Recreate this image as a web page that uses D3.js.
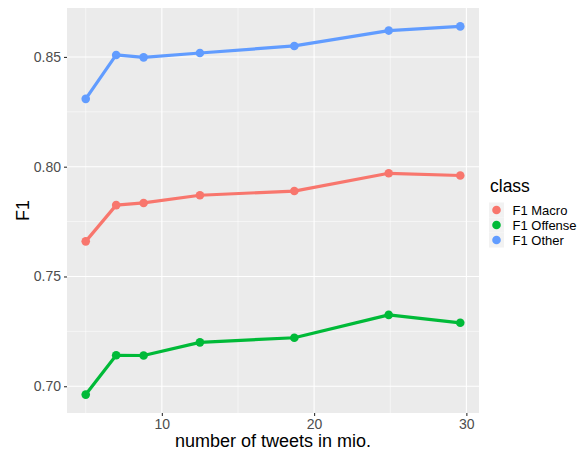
<!DOCTYPE html>
<html>
<head>
<meta charset="utf-8">
<script src="https://cdn.jsdelivr.net/npm/d3@7"></script>
<style>
  body { margin: 0; background: #fff; }
  svg text { font-family: "Liberation Sans", Arial, sans-serif; }
</style>
</head>
<body>
<svg id="chart" width="587" height="450"></svg>
<script>
"use strict";

// data
const tweets = [5.0, 7.0, 8.8, 12.5, 18.7, 24.9, 29.6];
const classes = ["F1 Macro", "F1 Offense", "F1 Other"];
const f1Macro = [0.766, 0.7825, 0.7835, 0.787, 0.7889, 0.797, 0.796];
const f1Offense = [0.6962, 0.7141, 0.714, 0.720, 0.7221, 0.7325, 0.7289];
const f1Other = [0.8309, 0.8509, 0.8498, 0.8518, 0.855, 0.862, 0.8639];
const xTicks = [10, 20, 30];
const yTicks = [0.70, 0.75, 0.80, 0.85];
const colorList = ["#F8766D", "#00BA38", "#619CFF"];

const seriesValues = [f1Macro, f1Offense, f1Other];
const series = classes.map((c, i) => ({
    name: c,
    values: tweets.map((t, j) => ({x: t, y: seriesValues[i][j]}))
}));

// layout
const panel = {left: 67, right: 479, top: 8, bottom: 413};

let svg = d3.select("#chart");

// scales (ggplot style 5% expansion)
let allY = seriesValues.flat();
let xMin = d3.min(tweets), xMax = d3.max(tweets);
let yMin = d3.min(allY), yMax = d3.max(allY);
let xPad = (xMax - xMin) * 0.05, yPad = (yMax - yMin) * 0.05;

let scaleX = d3.scaleLinear()
.domain([xMin - xPad, xMax + xPad])
.range([panel.left, panel.right]);

let scaleY = d3.scaleLinear()
.domain([yMin - yPad, yMax + yPad])
.range([panel.bottom, panel.top]);

let scaleColor = d3.scaleOrdinal()
.domain(classes)
.range(colorList);

// panel background
svg.append("rect")
.attr("x", panel.left)
.attr("y", panel.top)
.attr("width", panel.right - panel.left)
.attr("height", panel.bottom - panel.top)
.attr("fill", "#EBEBEB");

// grid lines
let xMinor = [5, 15, 25];
let yMinor = [0.725, 0.775, 0.825];
let grid = svg.append("g").attr("class", "grid");

grid.selectAll("line.xminor")
.data(xMinor)
.enter()
.append("line")
.attr("x1", d => scaleX(d)).attr("x2", d => scaleX(d))
.attr("y1", panel.top).attr("y2", panel.bottom)
.attr("stroke", "#fff").attr("stroke-width", 0.55);

grid.selectAll("line.yminor")
.data(yMinor)
.enter()
.append("line")
.attr("y1", d => scaleY(d)).attr("y2", d => scaleY(d))
.attr("x1", panel.left).attr("x2", panel.right)
.attr("stroke", "#fff").attr("stroke-width", 0.55);

grid.selectAll("line.xmajor")
.data(xTicks)
.enter()
.append("line")
.attr("x1", d => scaleX(d)).attr("x2", d => scaleX(d))
.attr("y1", panel.top).attr("y2", panel.bottom)
.attr("stroke", "#fff").attr("stroke-width", 1.1);

grid.selectAll("line.ymajor")
.data(yTicks)
.enter()
.append("line")
.attr("y1", d => scaleY(d)).attr("y2", d => scaleY(d))
.attr("x1", panel.left).attr("x2", panel.right)
.attr("stroke", "#fff").attr("stroke-width", 1.1);

// axes
let xAxis = svg.append("g")
.attr("class", "x_axis")
.attr("transform", `translate(0, ${panel.bottom})`)
.call(d3.axisBottom(scaleX).tickValues(xTicks).tickSize(3).tickPadding(3).tickFormat(d3.format("d")));

let yAxis = svg.append("g")
.attr("class", "y_axis")
.attr("transform", `translate(${panel.left}, 0)`)
.call(d3.axisLeft(scaleY).tickValues(yTicks).tickSize(3).tickPadding(3).tickFormat(d3.format(".2f")));

[xAxis, yAxis].forEach(ax => {
    ax.select(".domain").remove();
    ax.selectAll(".tick line").attr("stroke", "#333333").attr("stroke-width", 1.1);
    ax.selectAll(".tick text")
    .attr("fill", "#4D4D4D")
    .style("font-size", "14px")
    .style("font-family", "'Liberation Sans', Arial, sans-serif");
});

// axis titles
svg.append("text")
.attr("x", (panel.left + panel.right) / 2)
.attr("y", 446.5)
.attr("text-anchor", "middle")
.style("font-size", "18px")
.attr("fill", "#000")
.text("number of tweets in mio.");

svg.append("text")
.attr("transform", `translate(${28.5}, ${(panel.top + panel.bottom) / 2}) rotate(-90)`)
.attr("text-anchor", "middle")
.style("font-size", "18px")
.attr("fill", "#000")
.text("F1");

// lines + points
let line = d3.line()
.x(d => scaleX(d.x))
.y(d => scaleY(d.y));

let plot = svg.append("g").attr("class", "series");

plot.selectAll("path")
.data(series)
.enter()
.append("path")
.attr("d", d => line(d.values))
.attr("fill", "none")
.attr("stroke", d => scaleColor(d.name))
.attr("stroke-width", 3.2)
.attr("stroke-linejoin", "round");

plot.selectAll("g.pts")
.data(series)
.enter()
.append("g")
.attr("class", "pts")
.each(function(s) {
    d3.select(this)
    .selectAll("circle")
    .data(s.values)
    .enter()
    .append("circle")
    .attr("cx", d => scaleX(d.x))
    .attr("cy", d => scaleY(d.y))
    .attr("r", 4.3)
    .attr("fill", scaleColor(s.name));
});

// legend
let legend = svg.append("g")
.attr("class", "legend")
.attr("transform", "translate(490, 0)");

legend.append("text")
.attr("x", 0)
.attr("y", 191.5)
.style("font-size", "17.5px")
.attr("fill", "#000")
.text("class");

let rows = legend.selectAll("g.row")
.data(classes)
.enter()
.append("g")
.attr("class", "row")
.attr("transform", (d, i) => `translate(0, ${202.5 + i * 15})`);

rows.append("rect")
.attr("x", -1)
.attr("y", 0)
.attr("width", 15)
.attr("height", 15)
.attr("fill", "#F2F2F2");

rows.append("circle")
.attr("cx", 6.5)
.attr("cy", 7.5)
.attr("r", 4.3)
.attr("fill", d => scaleColor(d));

rows.append("text")
.attr("x", 22.5)
.attr("y", 12.3)
.style("font-size", "13px")
.attr("fill", "#000")
.text(d => d);
</script>
</body>
</html>
